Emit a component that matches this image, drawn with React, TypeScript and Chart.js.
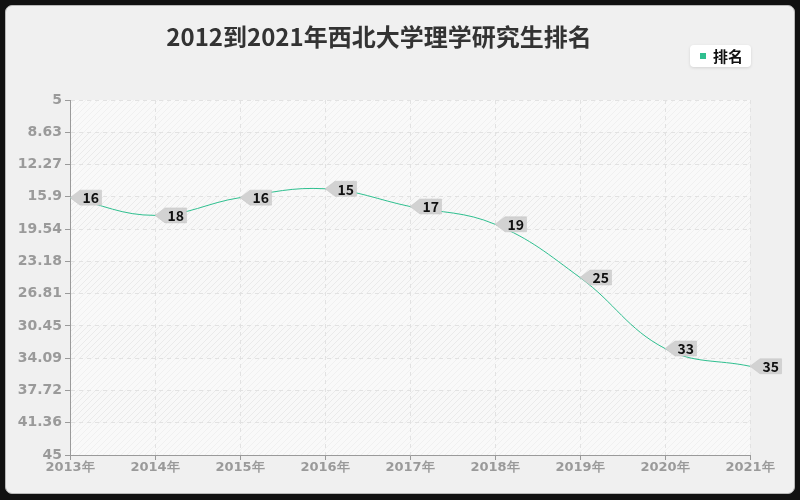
import React, { useEffect, useRef } from 'react';
import { Chart, registerables } from 'chart.js';

Chart.register(...registerables);

const chartTitle = '2012到2021年西北大学理学研究生排名';
const seriesName = '排名';
const years = ['2013年', '2014年', '2015年', '2016年', '2017年', '2018年', '2019年', '2020年', '2021年'];
const ranks = [16, 18, 16, 15, 17, 19, 25, 33, 35];
const yTickLabels = ['5', '8.63', '12.27', '15.9', '19.54', '23.18', '26.81', '30.45', '34.09', '37.72', '41.36', '45'];
const yMin = 5;
const yMax = 45;

const LINE_COLOR = '#2fbf8f';
const TICK_COLOR = '#9a9a9a';
const GRID_COLOR = '#e2e2e2';

function makeHatch(ctx: CanvasRenderingContext2D, base: string, line: string) {
  const c = document.createElement('canvas');
  c.width = 6;
  c.height = 6;
  const g = c.getContext('2d')!;
  g.fillStyle = base;
  g.fillRect(0, 0, 6, 6);
  g.strokeStyle = line;
  g.lineWidth = 1;
  g.beginPath();
  g.moveTo(0, 6);
  g.lineTo(6, 0);
  g.moveTo(-3, 3);
  g.lineTo(3, -3);
  g.moveTo(3, 9);
  g.lineTo(9, 3);
  g.stroke();
  return ctx.createPattern(c, 'repeat');
}

const bandsPlugin = {
  id: 'bands',
  beforeDraw(chart: any) {
    const { ctx, chartArea } = chart;
    const y = chart.scales.y;
    const faint = makeHatch(ctx, '#f9f9f9', '#f0f0f0');
    const strong = makeHatch(ctx, '#f8f8f8', '#eaeaea');
    ctx.save();
    const ticks = y.ticks;
    for (let i = 0; i < ticks.length - 1; i++) {
      const y0 = y.getPixelForValue(ticks[i].value);
      const y1 = y.getPixelForValue(ticks[i + 1].value);
      ctx.fillStyle = (i % 2 === 0 ? faint : strong) as any;
      ctx.fillRect(chartArea.left, Math.min(y0, y1), chartArea.right - chartArea.left, Math.abs(y1 - y0));
    }
    ctx.restore();
  },
};

const calloutPlugin = {
  id: 'callouts',
  afterDatasetsDraw(chart: any) {
    const { ctx } = chart;
    const meta = chart.getDatasetMeta(0);
    const data = chart.data.datasets[0].data;
    ctx.save();
    ctx.font = 'bold 14px "Noto Sans CJK SC", "Noto Sans", sans-serif';
    meta.data.forEach((pt: any, i: number) => {
      const text = String(data[i]);
      const tw = ctx.measureText(text).width;
      const x = pt.x;
      const y = pt.y;
      const h = 15;
      const aw = 10;
      const bw = tw + 5;
      ctx.beginPath();
      ctx.moveTo(x, y);
      ctx.lineTo(x + aw, y - h / 2);
      ctx.lineTo(x + aw + bw, y - h / 2);
      ctx.lineTo(x + aw + bw, y + h / 2);
      ctx.lineTo(x + aw, y + h / 2);
      ctx.closePath();
      ctx.fillStyle = '#d2d2d2';
      ctx.fill();
      ctx.strokeStyle = '#c4c4c4';
      ctx.lineWidth = 0.5;
      ctx.stroke();
      ctx.fillStyle = '#111';
      ctx.textAlign = 'left';
      ctx.textBaseline = 'middle';
      ctx.fillText(text, x + aw + 2.5, y + 0.5);
    });
    ctx.restore();
  },
};

const headerPlugin = {
  id: 'header',
  afterDraw(chart: any) {
    const { ctx } = chart;
    ctx.save();
    ctx.font = 'bold 24px "Noto Sans CJK SC", sans-serif';
    ctx.fillStyle = '#333';
    ctx.textAlign = 'center';
    ctx.textBaseline = 'middle';
    ctx.fillText(chartTitle, 379, 37);

    // legend
    ctx.font = 'bold 15px "Noto Sans CJK SC", sans-serif';
    const tw = ctx.measureText(seriesName).width;
    const bx = 690;
    const by = 45;
    const bw = 24 + tw + 7;
    const bh = 22;
    ctx.shadowColor = 'rgba(0,0,0,0.12)';
    ctx.shadowBlur = 3;
    ctx.shadowOffsetY = 1;
    ctx.fillStyle = '#ffffff';
    ctx.beginPath();
    (ctx as any).roundRect(bx, by, bw, bh, 4);
    ctx.fill();
    ctx.shadowColor = 'transparent';
    ctx.fillStyle = LINE_COLOR;
    ctx.fillRect(bx + 10, by + 8, 6, 6);
    ctx.fillStyle = '#111';
    ctx.textAlign = 'left';
    ctx.fillText(seriesName, bx + 23, by + bh / 2 + 0.5);
    ctx.restore();
  },
};

export default function App() {
  const ref = useRef<HTMLCanvasElement | null>(null);

  useEffect(() => {
    if (!ref.current) return;
    const step = (yMax - yMin) / (yTickLabels.length - 1);
    const chart = new Chart(ref.current, {
      type: 'line',
      data: {
        labels: years,
        datasets: [
          {
            label: seriesName,
            data: ranks,
            borderColor: LINE_COLOR,
            backgroundColor: LINE_COLOR,
            borderWidth: 1,
            tension: 0.4,
            pointRadius: 0,
            pointHoverRadius: 0,
            fill: false,
          },
        ],
      },
      options: {
        animation: false,
        responsive: false,
        devicePixelRatio: 1,
        layout: { padding: { left: 0, right: 50, top: 100, bottom: 0 } },
        plugins: {
          legend: { display: false },
          title: { display: false },
          tooltip: { enabled: false },
        },
        scales: {
          x: {
            type: 'category',
            offset: false,
            grid: {
              color: GRID_COLOR,
              tickColor: TICK_COLOR,
              tickLength: 5,
              drawOnChartArea: true,
            },
            border: { color: TICK_COLOR, width: 1, dash: [4, 4] },
            ticks: {
              color: TICK_COLOR,
              font: { family: '"DejaVu Sans", sans-serif', size: 13, weight: 'bold' },
              padding: 0,
              maxRotation: 0,
              autoSkip: false,
            },
            afterFit(scale: any) {
              scale.height = 45;
            },
          },
          y: {
            type: 'linear',
            reverse: true,
            min: yMin,
            max: yMax,
            afterBuildTicks(scale: any) {
              scale.ticks = yTickLabels.map((_, i) => ({ value: yMin + i * step }));
            },
            grid: {
              color: GRID_COLOR,
              tickColor: TICK_COLOR,
              tickLength: 5,
            },
            border: { color: TICK_COLOR, width: 1, dash: [4, 4] },
            ticks: {
              color: TICK_COLOR,
              font: { family: '"DejaVu Sans", sans-serif', size: 14, weight: 'bold' },
              padding: 3,
              callback: (_v: any, i: number) => yTickLabels[i],
            },
            afterFit(scale: any) {
              scale.width = 70;
            },
          },
        },
      },
      plugins: [bandsPlugin, calloutPlugin, headerPlugin],
    });
    return () => chart.destroy();
  }, []);

  return (
    <div style={{ position: 'fixed', left: 0, top: 0, width: 800, height: 500, background: '#111' }}>
      <div
        style={{
          position: 'absolute',
          left: 5,
          top: 5,
          width: 788,
          height: 487,
          background: '#f0f0f0',
          border: '1px solid #b8b8b8',
          borderRadius: 7,
        }}
      />
      <canvas ref={ref} width={800} height={500} style={{ position: 'absolute', left: 0, top: 0, width: 800, height: 500 }} />
    </div>
  );
}
